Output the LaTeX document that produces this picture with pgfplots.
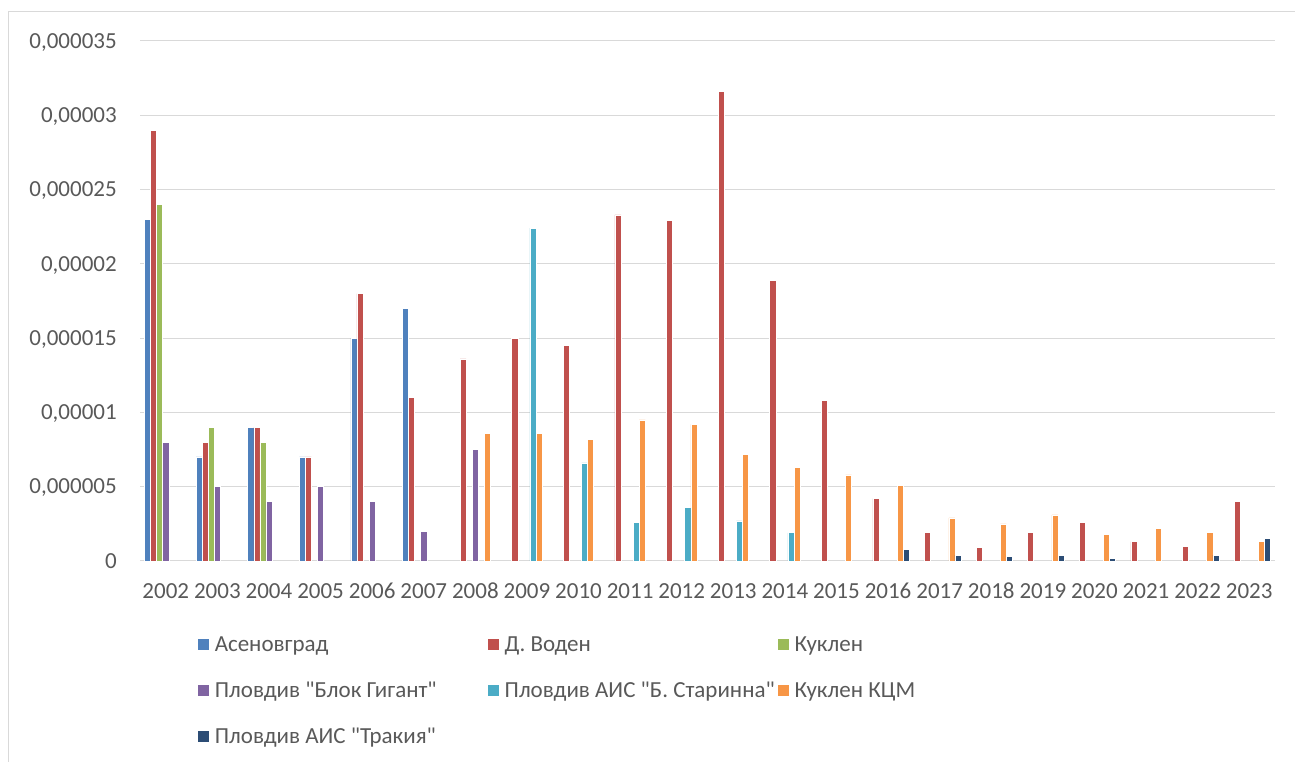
\documentclass[border=0pt]{standalone}
\usepackage{pgfplots}
\pgfplotsset{compat=1.18}
\usepackage{fontspec}
\setmainfont{Carlito}[Ligatures=TeXOff]
\definecolor{c1}{HTML}{4F81BD}
\definecolor{c2}{HTML}{C0504D}
\definecolor{c3}{HTML}{9BBB59}
\definecolor{c4}{HTML}{8064A2}
\definecolor{c5}{HTML}{4BACC6}
\definecolor{c6}{HTML}{F79646}
\definecolor{c7}{HTML}{2C4D75}
\definecolor{txt}{HTML}{595959}
\definecolor{gridc}{HTML}{D9D9D9}
\newcommand{\legtxt}[1]{\makebox[204pt][l]{#1}}
\pgfplotsset{sqlegend/.style={legend image code/.code={\fill[##1] (0pt,1pt) rectangle (9pt,10pt);}}}
\begin{document}
\frenchspacing
\fontsize{17.25}{20}\selectfont
\begin{tikzpicture}
\useasboundingbox (0,0) rectangle (971.25pt,571.5pt);
\draw[gridc, line width=0.75pt] (6pt,0) -- (6pt,562.5pt) -- (971.25pt,562.5pt);
\begin{axis}[
  at={(105pt,150.75pt)}, anchor=south west,
  scale only axis, width=851.25pt, height=390pt,
  xmin=2001.5, xmax=2023.5, ymin=0, ymax=0.000035,
  axis line style={draw=none},
  ymajorgrids, major grid style={gridc, line width=0.75pt},
  major tick length=0pt,
  scaled y ticks=false,
  ytick={0,0.000005,0.00001,0.000015,0.00002,0.000025,0.00003,0.000035},
  yticklabels={0,{0,000005},{0,00001},{0,000015},{0,00002},{0,000025},{0,00003},{0,000035}},
  xtick={2002,2003,2004,2005,2006,2007,2008,2009,2010,2011,2012,2013,2014,2015,2016,2017,2018,2019,2020,2021,2022,2023},
  xticklabels={2002,2003,2004,2005,2006,2007,2008,2009,2010,2011,2012,2013,2014,2015,2016,2017,2018,2019,2020,2021,2022,2023},
  tick label style={text=txt, font=\fontsize{17.25}{20}\selectfont, inner sep=0pt},
  yticklabel style={anchor=base east, xshift=-17.25pt, yshift=-5.45pt},
  xticklabel style={anchor=base, yshift=-28.5pt},
  /pgf/number format/assume math mode=true,
  legend columns=3,
  legend style={at={(0.0502,-0.143)}, anchor=north west, draw=none, fill=none,
    inner sep=0pt, outer sep=0pt, row sep=18.5pt, text=txt,
    font=\fontsize{17.25}{20}\selectfont,
    nodes={anchor=base west, inner sep=0pt, text height=12pt, text depth=4pt},
    /tikz/every odd column/.append style={column sep=4pt}},
  every axis plot/.append style={ybar, bar width=0.1176, draw=white, line width=0.4pt, sqlegend},
]
\addplot[fill=c1, bar shift=-0.3529] coordinates {
(2002,0.000023) (2003,0.000007) (2004,0.000009) (2005,0.000007) (2006,0.000015) (2007,0.000017)};
\addlegendentry{\legtxt{Асеновград}}
\addplot[fill=c2, bar shift=-0.2353] coordinates {
(2002,0.000029) (2003,0.000008) (2004,0.000009) (2005,0.000007) (2006,0.000018) (2007,0.000011)
(2008,0.0000136) (2009,0.000015) (2010,0.0000145) (2011,0.0000233) (2012,0.0000229) (2013,0.0000316)
(2014,0.0000189) (2015,0.0000108) (2016,0.0000042) (2017,0.0000019) (2018,0.0000009) (2019,0.0000019)
(2020,0.0000026) (2021,0.0000013) (2022,0.0000010) (2023,0.0000040)};
\addlegendentry{\legtxt{Д. Воден}}
\addplot[fill=c3, bar shift=-0.1176] coordinates {
(2002,0.000024) (2003,0.000009) (2004,0.000008)};
\addlegendentry{\legtxt{Куклен}}
\addplot[fill=c4, bar shift=0] coordinates {
(2002,0.000008) (2003,0.000005) (2004,0.000004) (2005,0.000005) (2006,0.000004) (2007,0.000002) (2008,0.0000075)};
\addlegendentry{\legtxt{Пловдив "Блок Гигант"}}
\addplot[fill=c5, bar shift=0.1176] coordinates {
(2009,0.0000224) (2010,0.0000066) (2011,0.0000026) (2012,0.0000036) (2013,0.0000027) (2014,0.0000019)};
\addlegendentry{\legtxt{Пловдив АИС "Б. Старинна"}}
\addplot[fill=c6, bar shift=0.2353] coordinates {
(2008,0.0000086) (2009,0.0000086) (2010,0.0000082) (2011,0.0000095) (2012,0.0000092) (2013,0.0000072)
(2014,0.0000063) (2015,0.0000058) (2016,0.0000051) (2017,0.0000029) (2018,0.0000025) (2019,0.0000031)
(2020,0.0000018) (2021,0.0000022) (2022,0.0000019) (2023,0.0000013)};
\addlegendentry{\legtxt{Куклен КЦМ}}
\addplot[fill=c7, bar shift=0.3529] coordinates {
(2016,0.0000008) (2017,0.0000004) (2018,0.0000003) (2019,0.0000004) (2020,0.0000002) (2022,0.0000004) (2023,0.0000015)};
\addlegendentry{\legtxt{Пловдив АИС "Тракия"}}
\end{axis}
\end{tikzpicture}
\end{document}
